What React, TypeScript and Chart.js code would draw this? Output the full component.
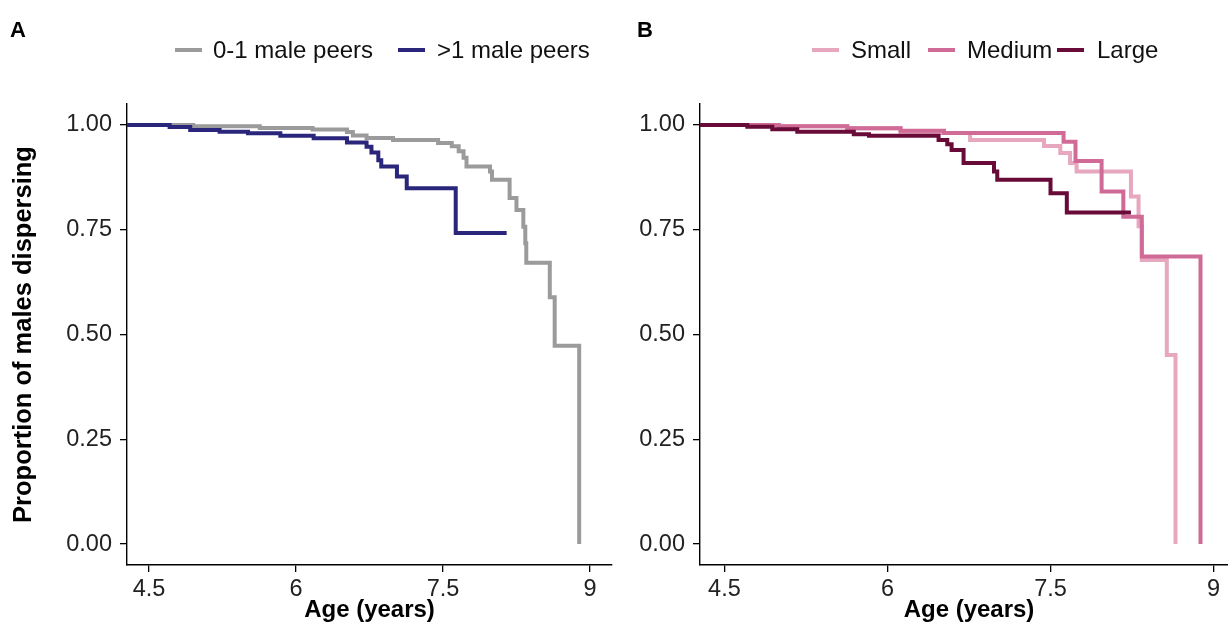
import React, { useEffect, useRef } from 'react';
import { Chart, registerables } from 'chart.js';

Chart.register(...registerables);

// ---- axes ----
const xTickValues = [4.5, 6, 7.5, 9];
const xTickLabels = ['4.5', '6', '7.5', '9'];
const yTickValues = [0, 0.25, 0.5, 0.75, 1];
const yTickLabels = ['0.00', '0.25', '0.50', '0.75', '1.00'];
const xRange = [4.275, 9.225];
const yRange = [-0.05, 1.05];
const xTitle = 'Age (years)';
const yTitle = 'Proportion of males dispersing';

// ---- panel A: number of male peers ----
const peersLabels = ['0-1 male peers', '>1 male peers'];
const fewPeersAges = [4.275, 4.95, 5.63, 6.17, 6.52, 6.58, 6.72, 6.99, 7.45, 7.59, 7.66, 7.71, 7.74, 7.98, 8.0, 8.18, 8.25, 8.32, 8.34, 8.35, 8.59, 8.64, 8.89];
const fewPeersSurv = [1.0, 0.997, 0.993, 0.989, 0.983, 0.975, 0.969, 0.964, 0.957, 0.949, 0.937, 0.922, 0.901, 0.889, 0.869, 0.826, 0.797, 0.757, 0.718, 0.671, 0.589, 0.473, 0.0];
const manyPeersAges = [4.275, 4.71, 4.92, 5.22, 5.51, 5.84, 6.18, 6.52, 6.72, 6.77, 6.84, 6.87, 7.03, 7.13, 7.63, 8.15];
const manyPeersSurv = [1.0, 0.995, 0.988, 0.984, 0.98, 0.974, 0.968, 0.958, 0.948, 0.934, 0.916, 0.901, 0.877, 0.849, 0.742, 0.742];

// ---- panel B: group size ----
const sizeLabels = ['Small', 'Medium', 'Large'];
const smallAges = [4.275, 5.0, 5.63, 6.12, 6.76, 7.44, 7.59, 7.68, 7.74, 8.24, 8.31, 8.34, 8.57, 8.65];
const smallSurv = [1.0, 0.997, 0.992, 0.981, 0.964, 0.95, 0.933, 0.909, 0.889, 0.829, 0.758, 0.678, 0.451, 0.0];
const mediumAges = [4.275, 5.0, 5.63, 6.12, 6.52, 7.62, 7.73, 7.97, 8.17, 8.34, 8.88];
const mediumSurv = [1.0, 0.997, 0.992, 0.986, 0.981, 0.96, 0.914, 0.841, 0.781, 0.686, 0.0];
const largeAges = [4.275, 4.71, 4.94, 5.17, 5.69, 5.83, 6.47, 6.55, 6.59, 6.7, 6.98, 7.01, 7.5, 7.65, 8.24];
const largeSurv = [1.0, 0.996, 0.99, 0.984, 0.978, 0.974, 0.964, 0.954, 0.94, 0.909, 0.889, 0.869, 0.837, 0.791, 0.791];

const FONT = "'Liberation Sans', Arial, Helvetica, sans-serif";
const GRAY = '#9b9b9b';
const NAVY = '#2a267c';
const SMALL_C = '#e6a7bf';
const MEDIUM_C = '#cf6b96';
const LARGE_C = '#690b38';

function toPoints(ages: number[], surv: number[]) {
  return ages.map((a, i) => ({ x: a, y: surv[i] }));
}

function lineDataset(label: string, ages: number[], surv: number[], color: string, order: number) {
  return {
    label,
    data: toPoints(ages, surv),
    borderColor: color,
    backgroundColor: color,
    borderWidth: 4,
    pointRadius: 0,
    pointHoverRadius: 0,
    stepped: 'before' as const,
    fill: false,
    tension: 0,
    borderCapStyle: 'butt' as const,
    borderJoinStyle: 'miter' as const,
    order,
  };
}

function makeConfig(datasets: any[], yAxisWidth: number, rightPad: number, showYTitle: boolean): any {
  return {
    type: 'line',
    data: { datasets },
    options: {
      animation: false,
      responsive: true,
      maintainAspectRatio: false,
      events: [],
      layout: { padding: { top: 104, right: rightPad, left: 0, bottom: 0 } },
      plugins: { legend: { display: false }, title: { display: false }, tooltip: { enabled: false } },
      scales: {
        x: {
          type: 'linear',
          min: xRange[0],
          max: xRange[1],
          afterBuildTicks: (scale: any) => {
            scale.ticks = xTickValues.map((v) => ({ value: v }));
          },
          afterFit: (scale: any) => {
            scale.height = 61;
          },
          ticks: {
            autoSkip: false,
            maxRotation: 0,
            padding: 3,
            color: '#222',
            font: { family: FONT, size: 23.5 },
            callback: (_v: any, i: number) => xTickLabels[i],
          },
          grid: { display: true, drawOnChartArea: false, drawTicks: true, tickLength: 7, color: '#000', lineWidth: 1.3 },
          border: { display: true, color: '#000', width: 1.4 },
          title: {
            display: true,
            text: xTitle,
            color: '#000',
            font: { family: FONT, size: 24, weight: 'bold' },
            padding: { top: 0, bottom: 1 },
          },
        },
        y: {
          type: 'linear',
          min: yRange[0],
          max: yRange[1],
          afterBuildTicks: (scale: any) => {
            scale.ticks = yTickValues.map((v) => ({ value: v }));
          },
          afterFit: (scale: any) => {
            scale.width = yAxisWidth;
          },
          ticks: {
            autoSkip: false,
            padding: 8,
            color: '#222',
            font: { family: FONT, size: 23.5 },
            callback: (_v: any, i: number) => yTickLabels[i],
          },
          grid: { display: true, drawOnChartArea: false, drawTicks: true, tickLength: 7, color: '#000', lineWidth: 1.3 },
          border: { display: true, color: '#000', width: 1.4 },
          title: {
            display: showYTitle,
            text: yTitle,
            color: '#000',
            font: { family: FONT, size: 25.5, weight: 'bold' },
            padding: { top: 9, bottom: 0 },
          },
        },
      },
    },
  };
}

function ChartPanel(props: { config: any; left: number; width: number }) {
  const ref = useRef<HTMLCanvasElement | null>(null);
  useEffect(() => {
    if (!ref.current) return;
    const chart = new Chart(ref.current, props.config);
    return () => chart.destroy();
  }, []);
  return (
    <div style={{ position: 'absolute', left: props.left, top: 0, width: props.width, height: 626 }}>
      <canvas ref={ref} style={{ display: 'block' }} />
    </div>
  );
}

function LegendItem(props: { swatchLeft: number; textLeft: number; color: string; text: string }) {
  return (
    <>
      <div
        style={{
          position: 'absolute',
          left: props.swatchLeft,
          top: 48,
          width: 27,
          height: 4,
          background: props.color,
        }}
      />
      <span
        style={{
          position: 'absolute',
          left: props.textLeft,
          top: 36,
          fontFamily: FONT,
          fontSize: 24,
          lineHeight: '28px',
          color: '#111',
          whiteSpace: 'nowrap',
        }}
      >
        {props.text}
      </span>
    </>
  );
}

function PanelLetter(props: { left: number; text: string }) {
  return (
    <span
      style={{
        position: 'absolute',
        left: props.left,
        top: 19,
        fontFamily: FONT,
        fontSize: 22,
        fontWeight: 'bold',
        lineHeight: '22px',
        color: '#000',
      }}
    >
      {props.text}
    </span>
  );
}

export default function App() {
  const configA = makeConfig(
    [
      lineDataset(peersLabels[0], fewPeersAges, fewPeersSurv, GRAY, 2),
      lineDataset(peersLabels[1], manyPeersAges, manyPeersSurv, NAVY, 1),
    ],
    127,
    8,
    true
  );
  const configB = makeConfig(
    [
      lineDataset(sizeLabels[0], smallAges, smallSurv, SMALL_C, 3),
      lineDataset(sizeLabels[1], mediumAges, mediumSurv, MEDIUM_C, 2),
      lineDataset(sizeLabels[2], largeAges, largeSurv, LARGE_C, 1),
    ],
    80,
    2,
    false
  );
  return (
    <div
      style={{
        position: 'absolute',
        left: 0,
        top: 0,
        width: 1228,
        height: 626,
        overflow: 'hidden',
        background: '#fff',
      }}
    >
      <ChartPanel config={configA} left={0} width={620} />
      <ChartPanel config={configB} left={620} width={620} />
      <PanelLetter left={10} text="A" />
      <PanelLetter left={637} text="B" />
      <LegendItem swatchLeft={175} textLeft={213} color={GRAY} text={peersLabels[0]} />
      <LegendItem swatchLeft={398} textLeft={437} color={NAVY} text={peersLabels[1]} />
      <LegendItem swatchLeft={812} textLeft={851} color={SMALL_C} text={sizeLabels[0]} />
      <LegendItem swatchLeft={928} textLeft={967} color={MEDIUM_C} text={sizeLabels[1]} />
      <LegendItem swatchLeft={1057} textLeft={1097} color={LARGE_C} text={sizeLabels[2]} />
    </div>
  );
}
